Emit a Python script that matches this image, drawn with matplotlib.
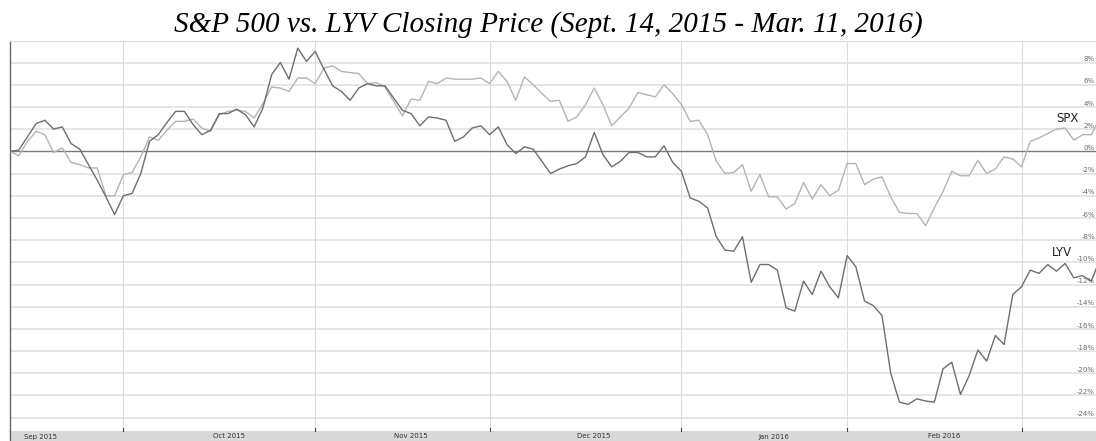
import numpy as np
import matplotlib
matplotlib.use('Agg')
import matplotlib.pyplot as plt

# percent change since Sept. 14, 2015, one value per trading day
spx = [0.0, -0.4, 0.9, 1.8, 1.5, -0.1, 0.3, -1.0, -1.2, -1.5, -1.5, -4.0, -4.0,
       -2.1, -1.9, -0.5, 1.3, 1.0, 1.9, 2.7, 2.7, 2.9, 2.1, 1.8, 3.3, 3.6, 3.7, 3.6, 3.0,
       4.3, 5.8, 5.7, 5.4, 6.6, 6.6,
       6.1, 7.5, 7.7, 7.2, 7.1, 7.0, 6.1, 6.2, 5.8, 4.5, 3.2, 4.7, 4.6, 6.3, 6.1, 6.6,
       6.5, 6.5, 6.5, 6.6,
       6.1, 7.2, 6.3, 4.6, 6.7, 6.0, 5.2, 4.5, 4.6, 2.7, 3.1, 4.2, 5.7, 4.2, 2.3, 3.1,
       3.9, 5.3, 5.1, 4.9, 6.0, 5.2,
       4.2, 2.7, 2.8, 1.5, -0.9, -2.0, -1.9, -1.2, -3.6, -2.1, -4.1, -4.1, -5.2, -4.7,
       -2.8, -4.3, -3.0, -4.0, -3.5,
       -1.1, -1.1, -3.0, -2.5, -2.3, -4.1, -5.5, -5.6, -5.6, -6.7, -5.1, -3.6, -1.8,
       -2.2, -2.2, -0.8, -2.0, -1.6, -0.5, -0.7,
       -1.4, 0.9, 1.2, 1.6, 2.0, 2.1, 1.0, 1.5, 1.5, 3.0]

lyv = [0.0, 0.1, 1.3, 2.5, 2.8, 2.0, 2.2, 0.7, 0.2, -1.2, -2.6, -4.1, -5.7,
       -4.0, -3.8, -2.0, 0.9, 1.5, 2.6, 3.6, 3.6, 2.4, 1.5, 1.9, 3.4, 3.4, 3.8, 3.3, 2.2,
       3.9, 6.9, 8.0, 6.5, 9.3, 8.1,
       9.0, 7.4, 5.9, 5.4, 4.6, 5.7, 6.1, 5.9, 5.9, 4.8, 3.7, 3.4, 2.3, 3.1, 3.0, 2.8,
       0.9, 1.3, 2.1, 2.3,
       1.5, 2.2, 0.6, -0.2, 0.4, 0.2, -0.9, -2.0, -1.6, -1.3, -1.1, -0.5, 1.7, -0.3,
       -1.4, -0.9, -0.1, -0.1, -0.5, -0.5, 0.5, -1.0,
       -1.8, -4.2, -4.5, -5.1, -7.7, -8.9, -9.0, -7.7, -11.8, -10.2, -10.2, -10.7,
       -14.1, -14.4, -11.7, -12.9, -10.8, -12.2, -13.2,
       -9.4, -10.4, -13.5, -13.9, -14.8, -20.0, -22.6, -22.8, -22.3, -22.5, -22.6,
       -19.6, -19.0, -21.9, -20.2, -17.9, -18.9, -16.6, -17.4, -12.9,
       -12.2, -10.7, -11.0, -10.2, -10.8, -10.1, -11.4, -11.2, -11.7, -9.7]

months = ['Sep 2015', 'Oct 2015', 'Nov 2015', 'Dec 2015', 'Jan 2016', 'Feb 2016']
month_starts = [13, 35, 55, 77, 96, 116]          # first trading day of Oct..Mar
month_label_pos = [3.5, 25.1, 46.0, 66.9, 87.6, 107.1]
pct_ticks = list(range(-24, 10, 2))

W, H = 1096, 441
fig = plt.figure(figsize=(W / 100, H / 100), dpi=100)
ax = fig.add_axes([10 / W, 10 / H, 1086 / W, 390 / H])

x = np.arange(len(spx))
ax.plot(x, spx, color='#b4b4b4', lw=1.0, zorder=3)
ax.plot(x, lyv, color='#6e6e6e', lw=1.0, zorder=4)

ax.set_xlim(0, 1086 / 8.72)
ax.set_ylim(-25.2, 9.94)

for v in pct_ticks:
    if v == 0:
        ax.axhline(0, color='#7a7a7a', lw=1.0, zorder=2)
    else:
        ax.axhline(v, color='#e4e4e4', lw=1.3, zorder=1)
    ax.text(0.999, v + 0.3, f'{v}%', transform=ax.get_yaxis_transform(),
            ha='right', va='center', fontsize=5, color='#6a6a6a', zorder=5)
for m in month_starts:
    ax.axvline(m, color='#dcdcdc', lw=0.8, zorder=1)

ax.text(121.3, 3.0, 'SPX', fontsize=8.5, color='#222222', ha='center', va='center', zorder=5)
ax.text(120.6, -9.1, 'LYV', fontsize=8.5, color='#222222', ha='center', va='center', zorder=5)

ax.set_xticks([])
ax.set_yticks([])
for s in ['right', 'bottom']:
    ax.spines[s].set_visible(False)
ax.spines['top'].set_color('#dddddd')
ax.spines['left'].set_color('#666666')
ax.spines['left'].set_linewidth(1.0)

# month band along the bottom
band = fig.add_axes([10 / W, 0, 1086 / W, 10 / H])
band.set_facecolor('#d9d9d9')
band.set_xlim(ax.get_xlim())
band.set_ylim(0, 1)
band.set_xticks([])
band.set_yticks([])
for s in band.spines.values():
    s.set_visible(False)
for m in month_starts:
    band.plot([m, m], [1.0, 1.3], color='#444444', lw=0.8, clip_on=False)
for lab, p in zip(months, month_label_pos):
    band.text(p, 0.45, lab, fontsize=5, color='#333333', ha='center', va='center')
band.plot([0, 0], [0, 1], color='#666666', lw=1.0, clip_on=False)

fig.text(0.5, 1 - 31.7 / H, 'S&P 500 vs. LYV Closing Price (Sept. 14, 2015 - Mar. 11, 2016)',
         ha='center', va='baseline', fontsize=21, family='Liberation Serif', style='italic')

fig.savefig('out.png', dpi=100)
